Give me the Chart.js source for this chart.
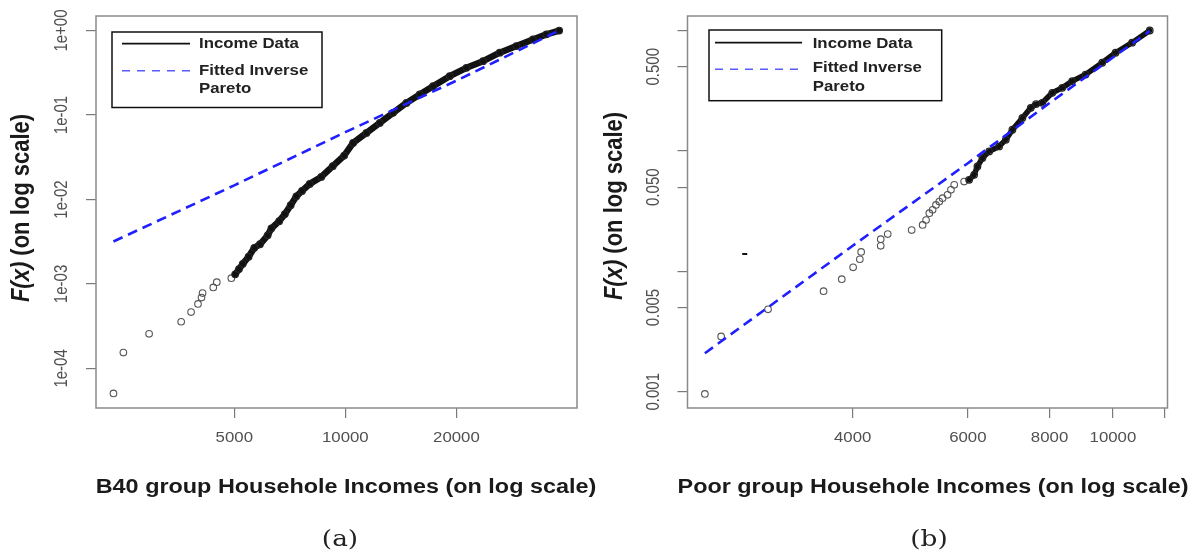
<!DOCTYPE html>
<html>
<head>
<meta charset="utf-8">
<script src="https://cdn.jsdelivr.net/npm/chart.js@4.4.1/dist/chart.umd.min.js"></script>
<style>
html, body { margin: 0; padding: 0; background: #fff; }
#wrap { position: relative; width: 1197px; height: 555px; background: #fff; }
canvas { position: absolute; top: 0; }
</style>
</head>
<body>
<div id="wrap">
  <canvas id="chartA" width="598" height="555" style="left:0px"></canvas>
  <canvas id="chartB" width="599" height="555" style="left:598px"></canvas>
</div>
<script>
// ---- Panel (a) : B40 group ----
const incomeA_sparse_x = [2352, 2502, 2938, 3589, 3818, 3986, 4074, 4102, 4385, 4482, 4908];
const incomeA_sparse_F = [5.06e-5, 1.54e-4, 2.57e-4, 3.57e-4, 4.64e-4, 5.8e-4, 6.9e-4, 7.8e-4, 9.1e-4, 1.05e-3, 1.17e-3];
const incomeA_dense_x = [5028, 5148, 5272, 5467, 5665, 5870, 6158, 6304, 6617, 6855, 7109, 7366, 7632, 8007, 8604, 9244,
  9927, 10494, 11409, 12396, 13467, 14641, 15907, 17288, 19180, 21290, 23620, 26210, 29090, 32260, 35080, 37990];
const incomeA_dense_F = [1.30e-3, 1.50e-3, 1.73e-3, 2.10e-3, 2.68e-3, 2.95e-3, 3.76e-3, 4.56e-3, 5.54e-3, 6.71e-3, 8.55e-3, 1.09e-2, 1.26e-2, 1.53e-2, 1.85e-2, 2.48e-2,
  3.31e-2, 4.67e-2, 6.13e-2, 8.05e-2, 0.106, 0.139, 0.175, 0.219, 0.288, 0.362, 0.434, 0.547, 0.655, 0.785, 0.901, 1.0];
const fittedA_x = [2352, 5000, 10000, 20000, 37990];
const fittedA_F = [3.18e-3, 0.0147, 0.0626, 0.255, 1.0];
const ticksA_x = [5000, 10000, 20000];
const labelsA_x = ['5000', '10000', '20000'];
const ticksA_y = [1e-4, 1e-3, 1e-2, 1e-1, 1];
const labelsA_y = ['1e-04', '1e-03', '1e-02', '1e-01', '1e+00'];

// ---- Panel (b) : Poor group ----
const incomeB_sparse_x = [2377, 2517, 2969, 3610, 3849, 4006, 4102, 4121, 4415, 4415, 4525, 4923, 5117, 5179, 5239, 5300,
  5363, 5426, 5489, 5586, 5653, 5719, 5922];
const incomeB_sparse_F = [9.6e-4, 2.88e-3, 4.84e-3, 6.84e-3, 8.61e-3, 1.08e-2, 1.26e-2, 1.45e-2, 1.63e-2, 1.85e-2, 2.04e-2, 2.20e-2, 2.43e-2, 2.67e-2, 3.04e-2, 3.24e-2,
  3.56e-2, 3.80e-2, 4.05e-2, 4.32e-2, 4.75e-2, 5.23e-2, 5.57e-2];
const incomeB_dense_x = [6027, 6134, 6206, 6316, 6468, 6699, 6858, 7019, 7270, 7488, 7628, 7798, 8077, 8365, 8665, 9082, 9629, 10093, 10698, 11384];
const incomeB_dense_F = [5.75e-2, 6.33e-2, 7.43e-2, 8.73e-2, 9.91e-2, 0.109, 0.124, 0.150, 0.188, 0.228, 0.245, 0.251, 0.304, 0.334, 0.380, 0.431, 0.540, 0.654, 0.793, 1.0];
const fittedB_x = [2377, 4000, 6000, 8000, 11384];
const fittedB_F = [2.09e-3, 0.0163, 0.0791, 0.250, 0.99];
const markB_x = [2735];
const markB_F = [0.0139];
const ticksB_x = [4000, 6000, 8000, 10000, 12000];
const labelsB_x = ['4000', '6000', '8000', '10000', ''];
const ticksB_y = [0.001, 0.005, 0.01, 0.05, 0.1, 0.5, 1];
const labelsB_y = ['0.001', '0.005', '', '0.050', '', '0.500', ''];

const SANS = '"Liberation Sans", Arial, sans-serif';
const SX = 1.2; // the figure is stretched a little horizontally

function pts(xs, ys) {
  return xs.map((x, i) => ({ x: x, y: ys[i] }));
}

// texte étiré horizontalement
function stretchText(ctx, s, x, y, font, color, align, sx) {
  ctx.save();
  ctx.translate(x, y);
  ctx.scale(sx, 1);
  ctx.font = font;
  ctx.fillStyle = color;
  ctx.textAlign = align;
  ctx.textBaseline = 'middle';
  ctx.fillText(s, 0, 0);
  ctx.restore();
}

function makePanel(p) {
  const decor = {
    id: 'decor' + p.id,
    afterDraw(chart) {
      const ctx = chart.ctx;
      const a = chart.chartArea;
      const xs = chart.scales.x, ys = chart.scales.y;

      // cadre du graphique
      ctx.save();
      ctx.strokeStyle = '#8a8a8a';
      ctx.lineWidth = 1.5;
      ctx.strokeRect(a.left, a.top, a.right - a.left, a.bottom - a.top);
      ctx.restore();

      // étiquettes de l'axe x
      p.xTicks.forEach((v, i) => {
        if (!p.xLabels[i]) return;
        stretchText(ctx, p.xLabels[i], xs.getPixelForValue(v), 438, '14px ' + SANS, '#505050', 'center', SX);
      });

      // étiquettes de l'axe y (verticales)
      p.yTicks.forEach((v, i) => {
        if (!p.yLabels[i]) return;
        ctx.save();
        ctx.translate(a.left - 33.5, ys.getPixelForValue(v));
        ctx.rotate(-Math.PI / 2);
        ctx.scale(1, SX);
        ctx.font = '15px ' + SANS;
        ctx.fillStyle = '#505050';
        ctx.textAlign = 'center';
        ctx.textBaseline = 'middle';
        ctx.fillText(p.yLabels[i], 0, 0);
        ctx.restore();
      });

      // titre de l'axe y : F(x) en italique
      ctx.save();
      ctx.translate(p.yTitleX, p.yTitleY);
      ctx.rotate(-Math.PI / 2);
      ctx.scale(1, SX);
      ctx.textBaseline = 'middle';
      ctx.fillStyle = '#1a1a1a';
      const f1 = 'italic bold 22px ' + SANS, f2 = 'bold 22px ' + SANS;
      ctx.font = f1; const w1 = ctx.measureText('F(x)').width;
      ctx.font = f2; const w2 = ctx.measureText(' (on log scale)').width;
      let sx0 = -(w1 + w2) / 2;
      ctx.font = f1; ctx.textAlign = 'left'; ctx.fillText('F(x)', sx0, 0);
      ctx.font = f2; ctx.fillText(' (on log scale)', sx0 + w1, 0);
      ctx.restore();

      // titre de l'axe x et légende (a)/(b)
      stretchText(ctx, p.xTitle, p.xTitleX, 487, 'bold 20px ' + SANS, '#1a1a1a', 'center', 1.17);
      stretchText(ctx, p.caption, p.captionX, 540, '22px "DejaVu Serif", serif', '#222', 'center', SX);

      // boîte de légende
      const L = p.legend;
      ctx.save();
      ctx.fillStyle = '#fff';
      ctx.fillRect(L.left, L.top, L.right - L.left, L.bottom - L.top);
      ctx.strokeStyle = '#111';
      ctx.lineWidth = 1.5;
      ctx.strokeRect(L.left, L.top, L.right - L.left, L.bottom - L.top);
      ctx.beginPath();
      ctx.strokeStyle = '#111';
      ctx.lineWidth = 1.7;
      ctx.moveTo(L.lx0, L.y1); ctx.lineTo(L.lx1, L.y1);
      ctx.stroke();
      ctx.beginPath();
      ctx.setLineDash([8, 7]);
      ctx.strokeStyle = '#5a5aff';
      ctx.lineWidth = 1.6;
      ctx.moveTo(L.lx0, L.y2); ctx.lineTo(L.lx1, L.y2);
      ctx.stroke();
      ctx.restore();
      const lf = 'bold 14px ' + SANS;
      stretchText(ctx, 'Income Data', L.tx, L.r1, lf, '#222', 'left', SX);
      stretchText(ctx, 'Fitted Inverse', L.tx, L.r2, lf, '#222', 'left', SX);
      stretchText(ctx, 'Pareto', L.tx, L.r3, lf, '#222', 'left', SX);
    }
  };

  const datasets = [
    {
      label: 'Fitted Inverse Pareto',
      data: pts(p.fitX, p.fitF),
      showLine: true,
      borderColor: '#1f1fff',
      borderWidth: 2.6,
      borderDash: [10, 6],
      pointRadius: 0,
      order: 0
    },
    {
      label: 'Income Data',
      data: pts(p.denseX, p.denseF),
      showLine: true,
      borderColor: '#111',
      borderWidth: p.bandWidth,
      borderJoinStyle: 'round',
      borderCapStyle: 'round',
      pointRadius: 3.3,
      pointBorderWidth: 1.2,
      pointBorderColor: '#222',
      pointBackgroundColor: 'rgba(0,0,0,0)',
      order: 1
    },
    {
      label: 'Income Data (tail)',
      data: pts(p.sparseX, p.sparseF),
      showLine: false,
      pointRadius: 3.3,
      pointBorderWidth: 1.1,
      pointBorderColor: '#555',
      pointBackgroundColor: 'rgba(0,0,0,0)',
      order: 2
    }
  ];
  if (p.markX) {
    datasets.push({
      label: 'mark',
      data: pts(p.markX, p.markF),
      showLine: false,
      pointStyle: 'line',
      pointRadius: 2.5,
      pointBorderWidth: 2,
      pointBorderColor: '#111',
      order: 3
    });
  }

  const tickOpts = (vals) => ({
    afterBuildTicks: (s) => { s.ticks = vals.map(v => ({ value: v })); }
  });

  return new Chart(document.getElementById(p.id), {
    type: 'scatter',
    data: { datasets: datasets },
    plugins: [decor],
    options: {
      responsive: false,
      devicePixelRatio: 1,
      animation: false,
      events: [],
      layout: { padding: { left: 0, right: p.W - p.area.right, top: p.area.top, bottom: 0 } },
      plugins: { legend: { display: false }, tooltip: { enabled: false } },
      scales: {
        x: Object.assign({
          type: 'logarithmic',
          min: p.xMin, max: p.xMax,
          afterFit: (s) => { s.height = 555 - p.area.bottom; },
          grid: { drawOnChartArea: false, drawTicks: true, tickLength: 10, color: '#7a7a7a', lineWidth: 1.2 },
          border: { display: false },
          ticks: { color: 'rgba(0,0,0,0)', autoSkip: false, maxRotation: 0, callback: () => '' }
        }, tickOpts(p.xTicks)),
        y: Object.assign({
          type: 'logarithmic',
          min: p.yMin, max: p.yMax,
          afterFit: (s) => { s.width = p.area.left; },
          grid: { drawOnChartArea: false, drawTicks: true, tickLength: 10, color: '#7a7a7a', lineWidth: 1.2 },
          border: { display: false },
          ticks: { color: 'rgba(0,0,0,0)', autoSkip: false, callback: () => '' }
        }, tickOpts(p.yTicks))
      }
    }
  });
}

makePanel({
  id: 'chartA', W: 598,
  area: { left: 96, right: 577, top: 16, bottom: 408 },
  xMin: 2109, xMax: 42460, yMin: 3.40e-5, yMax: 1.486,
  xTicks: ticksA_x, xLabels: labelsA_x, yTicks: ticksA_y, yLabels: labelsA_y,
  sparseX: incomeA_sparse_x, sparseF: incomeA_sparse_F,
  denseX: incomeA_dense_x, denseF: incomeA_dense_F,
  fitX: fittedA_x, fitF: fittedA_F,
  bandWidth: 6.5,
  yTitleX: 22, yTitleY: 208,
  xTitle: 'B40 group Househole Incomes (on log scale)', xTitleX: 346,
  caption: '(a)', captionX: 340,
  legend: { left: 112, right: 322, top: 32, bottom: 107.5, lx0: 122, lx1: 190, y1: 43.7, y2: 70.7, tx: 199, r1: 44, r2: 71, r3: 89.6 }
});

makePanel({
  id: 'chartB', W: 599,
  area: { left: 89.5, right: 569.5, top: 16, bottom: 408 },
  xMin: 2236, xMax: 12118, yMin: 7.33e-4, yMax: 1.32,
  xTicks: ticksB_x, xLabels: labelsB_x, yTicks: ticksB_y, yLabels: labelsB_y,
  sparseX: incomeB_sparse_x, sparseF: incomeB_sparse_F,
  denseX: incomeB_dense_x, denseF: incomeB_dense_F,
  fitX: fittedB_x, fitF: fittedB_F,
  markX: markB_x, markF: markB_F,
  bandWidth: 5.5,
  yTitleX: 17, yTitleY: 206,
  xTitle: 'Poor group Househole Incomes (on log scale)', xTitleX: 335,
  caption: '(b)', captionX: 331,
  legend: { left: 111, right: 343.7, top: 30, bottom: 100.7, lx0: 117, lx1: 204, y1: 42.7, y2: 69.3, tx: 214.7, r1: 44, r2: 67.7, r3: 86.7 }
});
</script>
</body>
</html>
